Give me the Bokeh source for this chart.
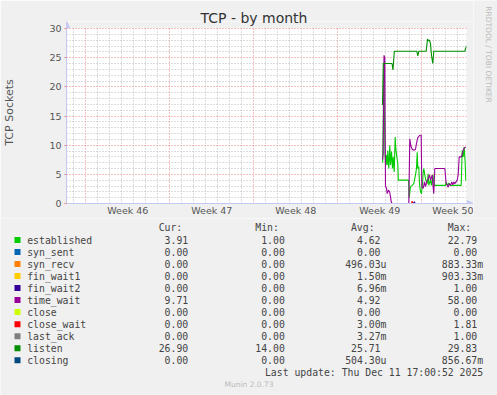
import math
from bokeh.plotting import figure
from bokeh.layouts import column, row
from bokeh.models import Range1d, FixedTicker, Arrow, NormalHead, BoxAnnotation
from bokeh.core.properties import value
from bokeh.embed import file_html
from bokeh.resources import INLINE

# ---------------- data ----------------
# time: days since Mon 10 Nov 2025 00:00 (start of ISO week 46)
week_start_days = [0, 7, 14, 21, 28]
week_label_days = [3.5, 10.5, 17.5, 24.5, 31.5]
week_labels = ["Week 46", "Week 47", "Week 48", "Week 49", "Week 50"]
y_ticks = [0, 5, 10, 15, 20, 25, 30]

established_t = [24.742, 24.833, 24.933, 24.992, 25.058, 25.117, 25.167, 25.25, 25.333, 25.392,
                 25.475, 25.558, 25.617, 25.7, 25.783, 25.833, 25.917, 26.0, 26.042, 26.892,
                 26.95, 27.058, 27.2, 27.333, 27.475, 27.558, 27.617, 27.667, 27.75, 27.808,
                 27.892, 27.975, 28.058, 28.117, 28.167, 28.25, 28.333, 28.45, 28.533, 28.583,
                 28.725, 28.808, 28.917, 29.033, 29.975, 30.033, 30.142, 30.25, 30.367, 31.283,
                 31.367, 31.45, 31.533, 31.617, 31.667]
established_v = [7.0, 22.8, 8.5, 6.5, 8.3, 6.6, 9.1, 6.0, 10.0, 6.6,
                 8.9, 6.0, 8.0, 5.4, 11.4, 9.4, 8.0, 6.9, 4.0, 4.0,
                 1.0, 2.9, 3.1, 3.4, 4.9, 6.0, 8.8, 6.0, 6.3, 3.4,
                 2.0, 1.7, 3.4, 5.4, 6.0, 4.9, 4.0, 3.4, 5.1, 3.1,
                 4.0, 3.1, 4.9, 3.1, 3.1, 3.7, 3.1, 3.5, 3.1, 3.1,
                 9.1, 8.0, 9.7, 6.9, 3.9]

time_wait_t = [24.725, 24.783, 24.85, 24.917, 24.975, 25.058, 25.117, 25.225, 25.333, 25.392,
               25.45, 25.517, 26.917, 27.0, 27.083, 27.2, 27.333, 27.475, 27.558, 27.667,
               27.833, 27.95, 28.0, 28.117, 28.225, 28.308, 28.45, 28.533, 28.642, 28.725,
               28.867, 28.917, 29.0, 29.083, 29.917, 30.033, 30.117, 30.2, 30.283, 30.392,
               30.5, 30.583, 30.667, 30.75, 30.95, 31.033, 31.117, 31.308, 31.417, 31.5, 31.667]
time_wait_v = [7.5, 8.5, 25.4, 25.0, 3.0, 2.6, 1.7, 2.3, 1.9, 1.1,
               0.3, 0.0, 0.0, 11.1, 9.9, 9.3, 9.1, 9.3, 10.3, 11.3,
               11.7, 11.7, 2.9, 2.6, 3.7, 2.9, 4.0, 4.3, 4.9, 4.0,
               4.9, 3.4, 1.7, 6.0, 6.0, 3.4, 3.1, 2.8, 3.4, 3.1,
               3.7, 3.2, 3.7, 3.4, 4.0, 4.9, 8.0, 8.0, 8.9, 9.4, 9.7]

listen_t = [24.725, 24.792, 25.517, 25.6, 25.708, 27.583, 27.667, 27.75, 28.367, 28.475,
            28.558, 28.642, 28.725, 28.808, 28.917, 29.0, 31.583, 31.725]
listen_v = [16.9, 24.0, 24.0, 22.9, 26.1, 26.1, 25.3, 26.1, 26.1, 28.2,
            27.9, 28.0, 27.4, 25.4, 24.0, 26.1, 26.1, 27.0]

close_wait_t = [27.15, 27.2, 27.25]
close_wait_v = [0.0, 0.4, 0.0]
fin_wait2_t = [27.3, 27.38, 27.45]
fin_wait2_v = [0.0, 0.3, 0.0]

flat_t = [24.725, 31.725]          # span of the series that stay at zero
flat_v = [0.0, 0.0]

names = ["established", "syn_sent", "syn_recv", "fin_wait1", "fin_wait2", "time_wait",
         "close", "close_wait", "last_ack", "listen", "closing"]
colors = ["#00CC00", "#0066B3", "#FF8000", "#FFCC00", "#330099", "#990099",
          "#CCFF00", "#FF0000", "#808080", "#008F00", "#00487D"]
cur_vals = ["3.91", "0.00", "0.00", "0.00", "0.00", "9.71", "0.00", "0.00", "0.00", "26.90", "0.00"]
min_vals = ["1.00", "0.00", "0.00", "0.00", "0.00", "0.00", "0.00", "0.00", "0.00", "14.00", "0.00"]
avg_vals = ["4.62", "0.00", "496.03u", "1.50m", "6.96m", "4.92", "0.00", "3.00m", "3.27m", "25.71", "504.30u"]
max_vals = ["22.79", "0.00", "883.33m", "903.33m", "1.00", "58.00", "0.00", "1.81", "1.00", "29.83", "856.67m"]
headers = ["Cur:", "Min:", "Avg:", "Max:"]

title_text = "TCP - by month"
y_title = "TCP Sockets"
side_text = "RRDTOOL / TOBI OETIKER"
update_text = "Last update: Thu Dec 11 17:00:52 2025"
version_text = "Munin 2.0.73"

# ---------------- chart ----------------
BG = "#F0F0F0"
AXIS = "#C4C8F2"
TXT = "#555555"
X0 = -1.608                 # left edge of the time axis
X1 = 31.725                 # last data time (right edge of the graph area)
XE = X0 + 407 / 12.0        # frame extended a little to hold the x-axis arrow
YTOP = 30.0                 # top of the value axis
YE = YTOP * 182 / 175.0     # frame extended a little to hold the y-axis arrow

p = figure(width=473, height=218, x_range=Range1d(X0, XE), y_range=Range1d(0, YE),
           toolbar_location=None, output_backend="svg",
           min_border_left=66, min_border_right=0, min_border_top=21, min_border_bottom=15,
           background_fill_color="white", border_fill_color=BG, outline_line_color=None)
p.frame_align = False

p.title.text = title_text
p.title.align = "left"
p.title.offset = 134
p.title.standoff = -8
p.title.text_font = "DejaVu Sans"
p.title.text_font_size = "14px"
p.title.text_font_style = "normal"
p.title.text_color = "#333333"

p.xgrid.ticker = FixedTicker(ticks=week_start_days,
                             minor_ticks=[d for d in range(-1, 32) if d not in week_start_days])
p.ygrid.ticker = FixedTicker(ticks=y_ticks,
                             minor_ticks=[v for v in range(0, 31) if v not in y_ticks])
for g in (p.xgrid, p.ygrid):
    g.grid_line_color = "#E88080"
    g.grid_line_alpha = 1.0
    g.grid_line_dash = "1 2"
    g.grid_line_width = 1
    g.minor_grid_line_color = "#BBBBBB"
    g.minor_grid_line_dash = "1 2"
    g.minor_grid_line_width = 1

p.yaxis.ticker = FixedTicker(ticks=y_ticks)
p.xaxis.ticker = FixedTicker(ticks=week_label_days)
p.xaxis.major_label_overrides = {d: l for d, l in zip(week_label_days, week_labels)}
for ax in (p.xaxis, p.yaxis):
    ax.axis_line_color = AXIS
    ax.major_label_text_font = "DejaVu Sans"
    ax.major_label_text_font_size = "9.5px"
    ax.major_label_text_color = TXT
    ax.minor_tick_line_color = None
    ax.minor_tick_out = 0
    ax.minor_tick_in = 0
p.yaxis.major_tick_line_color = "#E88080"
p.yaxis.major_tick_out = 2
p.yaxis.major_tick_in = 0
p.yaxis.major_label_standoff = 3
p.yaxis.axis_label = y_title
p.yaxis.axis_label_text_font = "DejaVu Sans"
p.yaxis.axis_label_text_font_size = "11px"
p.yaxis.axis_label_text_font_style = "normal"
p.yaxis.axis_label_text_color = TXT
p.yaxis.axis_label_standoff = 30
p.xaxis.major_tick_line_color = None
p.xaxis.major_tick_out = 0
p.xaxis.major_tick_in = 0
p.xaxis.major_label_standoff = 1

series = [
    (established_t, established_v), (flat_t, flat_v), (flat_t, flat_v), (flat_t, flat_v),
    (fin_wait2_t, fin_wait2_v), (time_wait_t, time_wait_v), (flat_t, flat_v),
    (close_wait_t, close_wait_v), (flat_t, flat_v), (listen_t, listen_v), (flat_t, flat_v),
]
for (t, v), c in zip(series, colors):
    p.line(t, v, line_color=c, line_width=1.1)

# grey out the thin strips above / right of the graph area, then the axis arrows
p.add_layout(BoxAnnotation(left=X1, fill_color=BG, fill_alpha=1.0, line_color=None))
p.add_layout(BoxAnnotation(bottom=YTOP + 0.1, fill_color=BG, fill_alpha=1.0, line_color=None))
p.add_layout(Arrow(end=NormalHead(size=6, fill_color=AXIS, line_color=AXIS),
                   x_start=X1, y_start=0, x_end=XE - 0.03, y_end=0,
                   line_color=AXIS, line_width=1))
p.add_layout(Arrow(end=NormalHead(size=6, fill_color=AXIS, line_color=AXIS),
                   x_start=X0 + 0.01, y_start=0, x_end=X0 + 0.01, y_end=YE - 0.05,
                   line_color=AXIS, line_width=1))

# ---------------- side strip (vertical credit text) ----------------
side = figure(width=24, height=218, x_range=Range1d(473, 497), y_range=Range1d(218, 0),
              x_axis_type=None, y_axis_type=None, toolbar_location=None, output_backend="svg",
              min_border=0, background_fill_color=BG, border_fill_color=BG, outline_line_color=None)
side.frame_align = False
side.text(x=[487.5], y=[54], text=[side_text], angle=-math.pi / 2,
          text_font=value("DejaVu Sans"), text_font_size=value("7.5px"),
          text_color="#BBBBBB", text_align="center", text_baseline="middle")

# ---------------- legend table ----------------
leg = figure(width=497, height=177, x_range=Range1d(0, 497), y_range=Range1d(395, 218),
             x_axis_type=None, y_axis_type=None, toolbar_location=None, output_backend="svg",
             min_border=0, background_fill_color=BG, border_fill_color=BG, outline_line_color=None)
leg.frame_align = False

MONO = value("DejaVu Sans Mono")
FS = value("9.8px")
CW = 5.95
row_y = [239.5 + 12.02 * i for i in range(len(names))]
head_y = 227.4

leg.rect(x=[17] * len(names), y=row_y, width=6, height=6, fill_color=colors, line_color=None)
leg.text(x=[26.7] * len(names), y=row_y, text=names, text_font=MONO, text_font_size=FS,
         text_color="#444444", text_align="left", text_baseline="middle")

col_edges = [187.7, 284.3, 380.0, 476.7]
for edge, vals, head in zip(col_edges, [cur_vals, min_vals, avg_vals, max_vals], headers):
    xs = [edge + (CW if s[-1].isalpha() else 0) for s in vals]
    leg.text(x=xs, y=row_y, text=vals, text_font=MONO, text_font_size=FS,
             text_color="#444444", text_align="right", text_baseline="middle")
    leg.text(x=[edge - CW], y=[head_y], text=[head], text_font=MONO, text_font_size=FS,
             text_color="#444444", text_align="right", text_baseline="middle")

leg.text(x=[482.7], y=[371.7], text=[update_text], text_font=MONO, text_font_size=FS,
         text_color="#444444", text_align="right", text_baseline="middle")
leg.text(x=[248.5], y=[384.0], text=[version_text], text_font=value("DejaVu Sans"),
         text_font_size=value("7.5px"), text_color="#BBBBBB", text_align="center",
         text_baseline="middle")

layout = column(row(p, side, spacing=0), leg, spacing=0)
open("out.html", "w").write(file_html(layout, INLINE))
